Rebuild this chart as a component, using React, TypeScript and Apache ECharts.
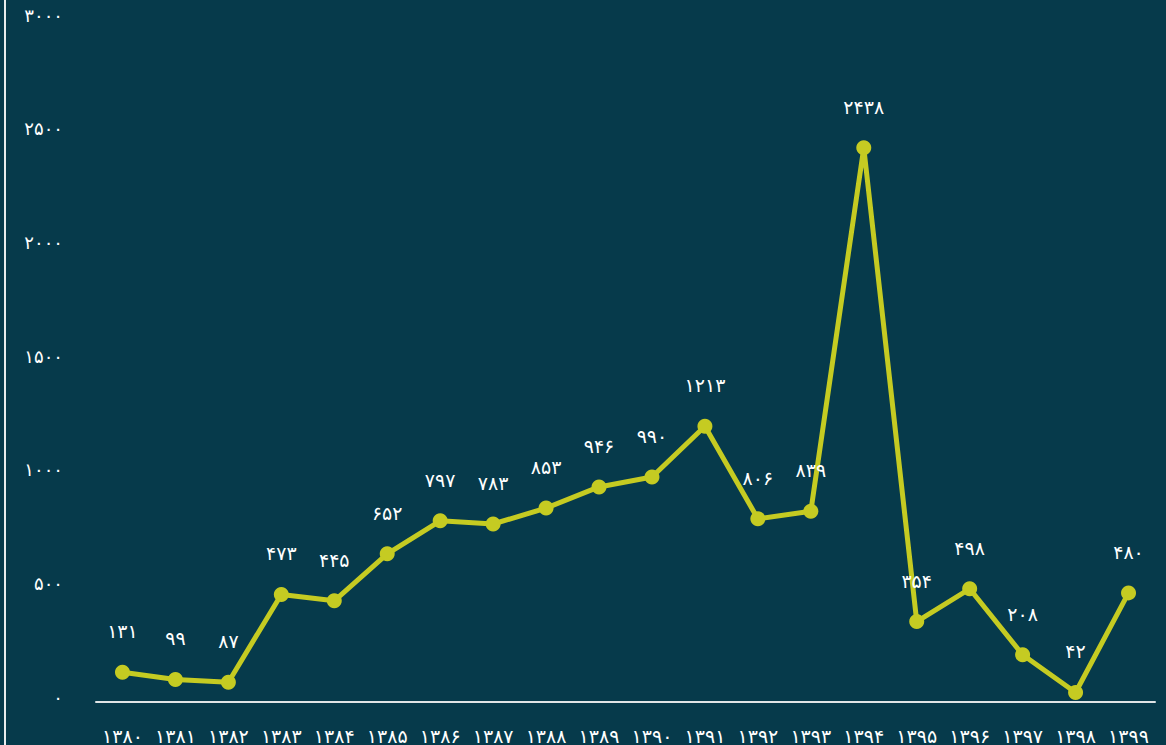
import React, { useEffect, useRef } from "react";
import * as echarts from "echarts";

const years = ["1380","1381","1382","1383","1384","1385","1386","1387","1388","1389","1390","1391","1392","1393","1394","1395","1396","1397","1398","1399"];
const values = [131, 99, 87, 473, 445, 652, 797, 783, 853, 946, 990, 1213, 806, 839, 2438, 354, 498, 208, 42, 480];
const yMax = 3000;
const yInterval = 500;

const FA = "۰۱۲۳۴۵۶۷۸۹";
const toFa = (v: string | number) => String(v).replace(/[0-9]/g, (d) => FA[+d]);

export default function App() {
  const ref = useRef<HTMLDivElement>(null);
  useEffect(() => {
    if (!ref.current) return;
    const chart = echarts.init(ref.current, null, { renderer: "svg" });
    chart.setOption({
      animation: false,
      backgroundColor: "#063a4b",
      textStyle: { fontFamily: "DejaVu Sans" },
      grid: { left: 96, right: 11, top: 20, bottom: 43, containLabel: false },
      xAxis: {
        type: "category",
        data: years,
        boundaryGap: true,
        axisLine: { show: true, lineStyle: { color: "#dfe4e6", width: 2 } },
        axisTick: { show: false },
        axisLabel: {
          color: "#ffffff",
          fontSize: 19,
          margin: 24,
          interval: 0,
          formatter: (v: string) => toFa(v),
        },
        splitLine: { show: false },
      },
      yAxis: {
        type: "value",
        min: 0,
        max: yMax,
        interval: yInterval,
        axisLine: { show: false },
        axisTick: { show: false },
        splitLine: { show: false },
        axisLabel: {
          color: "#ffffff",
          fontSize: 18,
          margin: 33,
          verticalAlign: "bottom",
          lineHeight: 10,
          formatter: (v: number) => toFa(v),
        },
      },
      graphic: [
        {
          type: "line",
          shape: { x1: 5, y1: 0, x2: 5, y2: 745 },
          style: { stroke: "#e8ecee", lineWidth: 2 },
        },
      ],
      series: [
        {
          type: "line",
          data: values,
          symbol: "circle",
          symbolSize: 15,
          itemStyle: { color: "#c5cb22" },
          lineStyle: { color: "#c5cb22", width: 5 },
          label: {
            show: true,
            position: "top",
            distance: 24,
            color: "#ffffff",
            fontSize: 19,
            formatter: (p: any) => toFa(p.value),
          },
        },
      ],
    });
    return () => chart.dispose();
  }, []);
  return (
    <div
      ref={ref}
      style={{ position: "fixed", left: 0, top: 0, width: 1166, height: 745 }}
    />
  );
}
